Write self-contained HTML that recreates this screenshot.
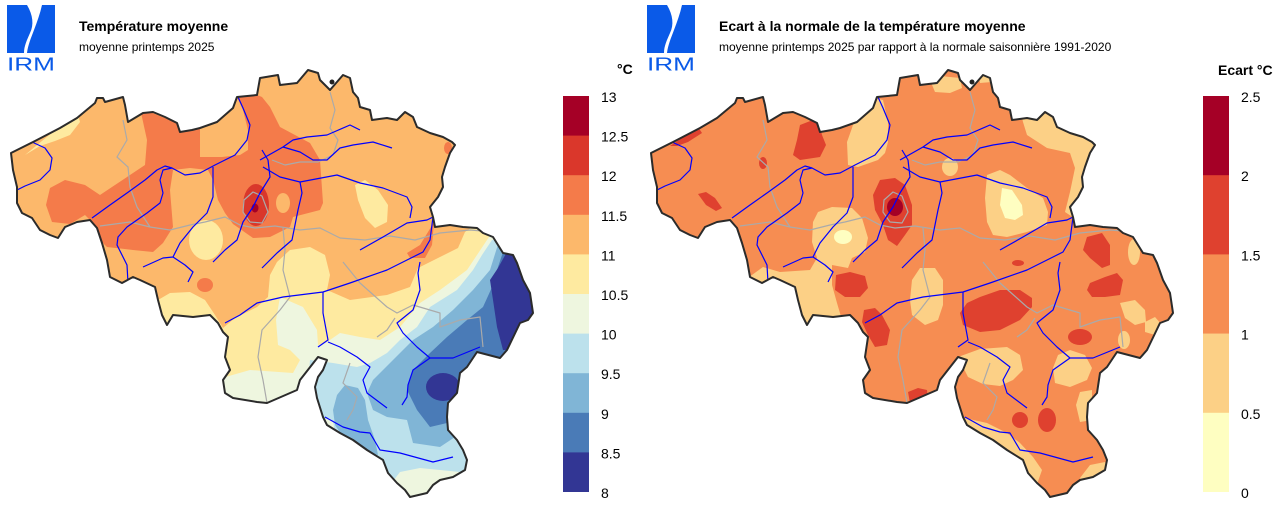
<!DOCTYPE html>
<html><head><meta charset="utf-8"><style>
html,body{margin:0;padding:0;background:#fff;}
svg{display:block;font-family:"Liberation Sans",Arial,sans-serif;}
</style></head><body>
<svg width="1280" height="507" viewBox="0 0 1280 507" xmlns="http://www.w3.org/2000/svg">
<defs>
<path id="ol" d="M11,153 L35,141 L60,128 L77,118 L95,103 L97,98 L103,98 L105,102 L123,97 L125,105 L128,122 L143,113 L153,112 L165,117 L177,123 L180,132 L192,130 L200,128 L217,122 L233,108 L237,97 L257,95 L260,78 L278,75 L280,85 L297,83 L308,70 L318,73 L320,80 L330,90 L343,75 L350,78 L353,92 L358,98 L360,107 L370,110 L372,120 L387,118 L397,120 L405,112 L413,117 L417,127 L430,133 L443,137 L452,142 L455,145 L450,153 L445,167 L442,177 L443,187 L438,197 L430,207 L433,217 L435,227 L450,225 L463,227 L477,228 L483,233 L493,237 L503,253 L513,255 L517,263 L523,280 L530,293 L533,313 L528,320 L520,323 L507,350 L500,358 L477,352 L467,367 L460,373 L457,393 L448,403 L447,417 L448,430 L457,440 L463,450 L467,460 L465,470 L453,477 L440,480 L433,485 L427,493 L410,497 L405,490 L397,483 L388,473 L383,460 L367,450 L353,440 L340,433 L327,425 L323,417 L317,398 L315,387 L318,377 L323,370 L327,360 L318,357 L300,380 L297,390 L267,403 L257,402 L233,398 L225,393 L223,380 L230,370 L225,357 L228,337 L223,332 L218,323 L210,315 L193,317 L173,315 L167,325 L162,315 L158,300 L155,287 L140,280 L133,277 L122,283 L110,277 L107,260 L102,243 L97,228 L90,220 L77,222 L65,227 L58,238 L50,235 L40,230 L32,218 L22,213 L17,203 L17,187 L13,170 Z"/>
<clipPath id="c"><use href="#ol"/></clipPath>
<g id="grey" fill="none" stroke="#aaaaaa" stroke-width="1.2" stroke-linejoin="round">
<path d="M123,120 L127,140 L117,157 L128,167 L130,187 L137,207 L150,227"/>
<path d="M100,226 L130,222 L150,227 L170,230 L190,225 L205,222 L225,217 L240,225 L255,228 L275,226 L300,230 L320,228 L340,238 L365,240 L390,236 L415,240 L440,233 L470,230 L495,232"/>
<path d="M244,200 L253,192 L262,196 L268,212 L262,223 L250,222 L243,212 Z"/>
<path d="M330,92 L335,110 L330,128 L338,140 L333,155 L318,162 L300,162 L285,165 L272,160"/>
<path d="M283,228 L285,250 L283,270 L290,297 L280,310 L262,330 L258,357 L263,380 L267,403"/>
<path d="M343,262 L360,283 L387,307 L397,313 L413,305 L440,313 L440,327 L460,320 L480,317 L483,347"/>
<path d="M377,337 L387,330 L395,318 M350,363 L343,383 L357,397 L353,410 L347,420"/>
</g>
<g id="riv" fill="none" stroke="#0000ff" stroke-width="1.2" stroke-linejoin="round">
<path d="M32,142 L45,148 L52,158 L50,170 L40,180 L25,186 L17,190"/>
<path d="M92,218 L110,205 L127,193 L145,180 L157,170 L165,166 L172,168"/>
<path d="M128,283 L127,265 L117,245 L118,237 L127,227 L147,213 L160,203 L163,193 L160,180 L163,170 L172,168 L185,175 L200,173 L215,165 L235,155 L247,140 L250,125 L243,108 L238,97"/>
<path d="M143,267 L163,258 L173,257 L180,243 L193,227 L207,213 L213,197 L213,167"/>
<path d="M173,257 L185,265 L193,272 L188,282"/>
<path d="M213,262 L225,250 L237,240 L243,222 L253,207 L260,193 L270,177 L268,160 L262,150"/>
<path d="M262,268 L277,253 L292,240 L295,225 L298,210 L302,193 L300,182"/>
<path d="M263,167 L280,177 L300,182 L337,175 L360,183 L383,188 L407,197 L412,207 L410,218"/>
<path d="M260,160 L283,147 L293,140 L307,137 L327,135 L350,125 L360,130"/>
<path d="M283,147 L300,152 L313,160 L327,160 L340,148 L353,145 L373,142 L392,148"/>
<path d="M360,250 L383,237 L407,223 L427,220 L433,217"/>
<path d="M225,323 L240,315 L257,303 L283,297 L323,292 L350,283 L387,270 L413,257 L423,252 L430,240 L433,217 L436,205"/>
<path d="M420,262 L418,273 L420,290 L413,310 L397,323 L403,333 L417,347 L430,358 L453,358 L480,347"/>
<path d="M430,358 L413,370 L408,385 L407,397 L402,405"/>
<path d="M323,292 L323,313 L328,340 L318,347"/>
<path d="M328,342 L340,347 L357,357 L370,367 L363,380 L367,393 L387,408"/>
<path d="M325,417 L343,427 L360,432 L370,433 L380,450 L400,453 L433,462 L453,457"/>
</g>
</defs>

<!-- Logos -->
<g id="logo" fill="#0a5ae8">
<path d="M7,5 L27,5 C33,15 34,25 30,33 C27,40 24,46 24,53 L7,53 Z"/>
<path d="M42,5 L55,5 L55,53 L27,53 C28,45 31,38 34,30 C37,22 40,14 42,5 Z"/>
</g>
<text x="7" y="70.5" font-size="18" fill="#0a5ae8" textLength="48" lengthAdjust="spacingAndGlyphs">IRM</text>
<g transform="translate(640,0)">
<use href="#logo"/>
</g>
<text x="647" y="70.5" font-size="18" fill="#0a5ae8" textLength="48" lengthAdjust="spacingAndGlyphs">IRM</text>

<!-- Titles -->
<text x="79" y="31" font-size="14" font-weight="bold" fill="#000">Température moyenne</text>
<text x="79" y="51" font-size="12" fill="#000">moyenne printemps 2025</text>
<text x="719" y="31" font-size="14" font-weight="bold" fill="#000">Ecart à la normale de la température moyenne</text>
<text x="719" y="51" font-size="12" fill="#000">moyenne printemps 2025 par rapport à la normale saisonnière 1991-2020</text>

<!-- LEFT MAP -->
<g clip-path="url(#c)">
<rect x="0" y="60" width="560" height="450" fill="#fcb86b"/>
<polygon fill="#f47b4a" points="140,108 182,125 200,125 200,157 222,157 240,155 248,150 248,130 243,110 237,97 257,95 262,97 270,107 280,127 310,143 320,160 323,203 320,210 293,217 290,227 270,237 253,238 233,224 225,213 218,200 213,180 208,170 190,168 173,170 170,190 173,227 163,243 153,252 133,250 107,247 100,240 95,225 85,215 70,224 52,222 46,205 50,188 65,180 85,185 100,195 115,185 130,175 145,165 147,140"/>
<ellipse cx="283" cy="203" rx="7" ry="10" fill="#fcb86b"/>
<ellipse cx="256" cy="205" rx="13" ry="21" fill="#d9372b"/>
<ellipse cx="255" cy="208" rx="3.5" ry="4.5" fill="#a50026"/>
<ellipse cx="205" cy="285" rx="8" ry="7" fill="#f47b4a"/>
<ellipse cx="448" cy="148" rx="4" ry="6" fill="#f47b4a"/>
<polygon fill="#feeaa0" points="25,155 77,112 80,122 70,135 55,141 40,146"/>
<ellipse cx="206" cy="240" rx="17" ry="20" fill="#feeaa0"/>
<polygon fill="#feeaa0" points="355,185 365,180 378,190 388,205 387,222 375,228 365,218 358,200"/>
<polygon fill="#feeaa0" points="150,330 158,300 170,293 190,292 205,300 215,315 223,328 235,318 257,307 268,297 270,275 277,262 290,250 310,247 325,255 330,275 327,290 350,300 387,295 410,287 418,268 440,257 458,248 465,232 475,225 560,220 560,520 150,520"/>
<polygon fill="#f47b4a" points="407,253 420,245 428,232 434,222 432,245 425,258 410,258"/>
<polygon fill="#eef6df" points="215,380 250,370 293,373 300,360 290,350 278,345 276,320 280,297 303,307 317,330 318,345 327,342 340,333 360,337 380,340 400,327 420,303 440,290 467,270 477,255 487,240 495,228 600,228 600,520 200,520"/>
<polygon fill="#bce1ec" points="310,360 333,363 357,367 370,363 387,353 400,340 417,327 430,307 457,290 473,270 482,255 492,240 600,240 600,475 460,472 440,470 420,468 400,472 390,485 300,485"/>
<ellipse cx="328" cy="428" rx="6" ry="10" fill="#eef6df"/>
<polygon fill="#80b5d6" points="500,238 490,270 473,290 453,310 433,327 413,340 393,360 373,380 367,393 373,410 387,417 407,420 413,443 440,447 455,437 600,437 600,238"/>
<polygon fill="#80b5d6" points="337,395 345,385 358,388 365,400 368,420 375,440 378,455 360,450 345,440 335,425 333,410"/>
<polygon fill="#4a7bb7" points="507,240 497,270 493,285 483,307 467,320 447,337 430,353 413,370 407,390 417,410 430,427 447,423 460,420 600,420 600,240"/>
<polygon fill="#323694" points="508,250 498,268 490,280 493,300 497,327 503,350 600,350 600,250"/>
<ellipse cx="443" cy="387" rx="17" ry="14" fill="#323694"/>
<use href="#grey"/>
<use href="#riv"/>
</g>
<use href="#ol" fill="none" stroke="#2b2b2b" stroke-width="2" stroke-linejoin="round"/>
<circle cx="332" cy="82" r="2.5" fill="#222"/>

<!-- RIGHT MAP -->
<g transform="translate(640,0)">
<g clip-path="url(#c)">
<rect x="0" y="60" width="560" height="450" fill="#f68d52"/>
<g fill="#fcd086">
<polygon points="222,95 212,128 207,142 208,165 218,167 238,160 245,153 248,142 248,122 243,100"/>
<polygon points="178,212 192,207 212,208 222,218 228,238 225,252 212,258 208,268 192,265 192,285 197,303 202,320 150,330 100,320 105,280 123,267 140,272 170,270 177,258 172,242 173,222"/>
<polygon points="290,80 300,76 320,78 322,88 310,93 295,92"/>
<polygon points="338,72 352,72 352,82 340,83"/>
<polygon points="380,110 383,122 387,135 407,148 430,153 435,168 430,192 425,212 440,222 470,200 470,100 380,100"/>
<ellipse cx="310" cy="167" rx="8" ry="9"/>
<polygon points="347,175 360,170 370,175 387,188 403,198 408,212 407,225 387,232 367,237 353,235 347,222 345,198"/>
<ellipse cx="494" cy="252" rx="6" ry="13"/>
<polygon points="272,280 280,268 295,268 303,280 303,305 298,320 285,325 272,315 270,300"/>
<polygon points="480,303 495,300 505,310 506,322 495,325 485,318"/>
<polygon points="505,322 515,317 522,325 515,335 505,332"/>
<ellipse cx="484" cy="340" rx="6" ry="9"/>
<polygon points="318,357 340,349 367,347 380,355 383,370 373,380 360,386 343,384 328,377"/>
<polygon points="418,355 430,350 445,355 452,368 447,380 430,387 415,383 413,368"/>
<polygon points="440,392 452,390 452,420 440,422 436,405"/>
<polygon points="320,417 347,423 367,433 380,443 393,457 402,470 395,490 340,470 315,430"/>
<polygon points="440,478 450,465 465,462 472,475 460,487 445,490"/>
</g>
<g fill="#fefec1">
<ellipse cx="203" cy="237" rx="9" ry="7"/>
<polygon points="362,188 372,190 382,205 383,215 375,220 365,218 360,205"/>
</g>
<g fill="#df412f">
<polygon points="30,146 58,127 62,133 48,142 37,146"/>
<polygon points="160,125 178,118 182,135 186,145 180,157 160,160 153,155 157,140"/>
<ellipse cx="123" cy="163" rx="4" ry="6"/>
<polygon points="58,194 66,192 75,198 82,208 76,211 66,205"/>
<polygon points="240,180 255,178 265,185 272,205 272,225 265,235 257,246 248,240 243,225 235,210 233,195"/>
<polygon points="196,275 210,272 225,276 228,288 220,297 205,297 195,290"/>
<polygon points="224,310 235,308 242,315 250,330 247,345 235,347 228,335 222,322"/>
<polygon points="327,303 340,297 360,290 380,290 392,298 392,307 380,320 360,330 340,332 323,325 320,313"/>
<polygon points="447,237 462,233 470,245 470,265 462,268 450,258 443,250"/>
<polygon points="450,283 465,277 477,273 483,280 480,295 465,297 452,297 447,290"/>
<ellipse cx="440" cy="337" rx="12" ry="8"/>
<ellipse cx="378" cy="263" rx="6" ry="3"/>
<polygon points="268,392 278,388 287,390 288,400 270,403"/>
<ellipse cx="380" cy="420" rx="8" ry="8"/>
<ellipse cx="407" cy="420" rx="9" ry="12"/>
</g>
<ellipse cx="255" cy="207" rx="8" ry="9" fill="#a50026"/>
<use href="#grey"/>
<use href="#riv"/>
</g>
<use href="#ol" fill="none" stroke="#2b2b2b" stroke-width="2" stroke-linejoin="round"/>
<circle cx="332" cy="82" r="2.5" fill="#222"/>
</g>

<!-- LEFT COLORBAR -->
<text x="617" y="74" font-size="14" font-weight="bold" fill="#000">°C</text>
<rect x="563" y="96" width="26" height="40" fill="#a50026"/>
<rect x="563" y="135.6" width="26" height="40" fill="#da372b"/>
<rect x="563" y="175.2" width="26" height="40" fill="#f47b4a"/>
<rect x="563" y="214.8" width="26" height="40" fill="#fcb86b"/>
<rect x="563" y="254.4" width="26" height="40" fill="#feeaa0"/>
<rect x="563" y="294" width="26" height="40" fill="#eef6df"/>
<rect x="563" y="333.6" width="26" height="40" fill="#bce1ec"/>
<rect x="563" y="373.2" width="26" height="40" fill="#80b5d6"/>
<rect x="563" y="412.8" width="26" height="40" fill="#4a7bb7"/>
<rect x="563" y="452.4" width="26" height="39.6" fill="#323694"/>
<g font-size="14" fill="#000">
<text x="601" y="102">13</text>
<text x="601" y="141.6">12.5</text>
<text x="601" y="181.2">12</text>
<text x="601" y="220.8">11.5</text>
<text x="601" y="260.4">11</text>
<text x="601" y="300">10.5</text>
<text x="601" y="339.6">10</text>
<text x="601" y="379.2">9.5</text>
<text x="601" y="418.8">9</text>
<text x="601" y="458.4">8.5</text>
<text x="601" y="498">8</text>
</g>

<!-- RIGHT COLORBAR -->
<text x="1218" y="75" font-size="14" font-weight="bold" fill="#000">Ecart °C</text>
<rect x="1203" y="96" width="26" height="79.5" fill="#a50026"/>
<rect x="1203" y="175.2" width="26" height="79.5" fill="#df412f"/>
<rect x="1203" y="254.4" width="26" height="79.5" fill="#f68d52"/>
<rect x="1203" y="333.6" width="26" height="79.5" fill="#fcd086"/>
<rect x="1203" y="412.8" width="26" height="79.2" fill="#fefec1"/>
<g font-size="14" fill="#000">
<text x="1241" y="102">2.5</text>
<text x="1241" y="181.2">2</text>
<text x="1241" y="260.4">1.5</text>
<text x="1241" y="339.6">1</text>
<text x="1241" y="418.8">0.5</text>
<text x="1241" y="498">0</text>
</g>
</svg>
</body></html>
